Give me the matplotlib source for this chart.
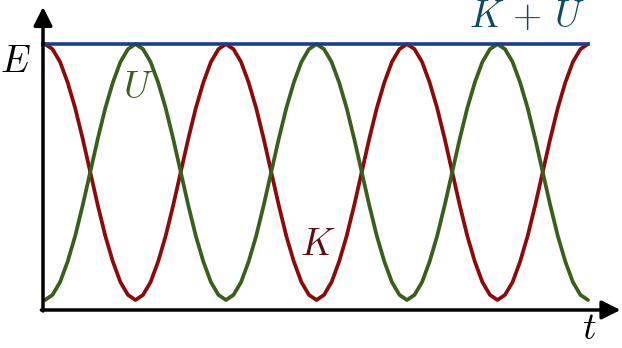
import numpy as np
import matplotlib.pyplot as plt

plt.rcParams['mathtext.fontset'] = 'cm'

# time samples: 3 periods of K, 24 samples per period
T_SAMPLES = np.linspace(0, 3, 73)

# kinetic energy K
K_VALUES = [
    1.00, 0.98, 0.93, 0.85, 0.75, 0.63, 0.50, 0.37, 0.25, 0.15, 0.07, 0.02,
    0.00, 0.02, 0.07, 0.15, 0.25, 0.37, 0.50, 0.63, 0.75, 0.85, 0.93, 0.98,
    1.00, 0.98, 0.93, 0.85, 0.75, 0.63, 0.50, 0.37, 0.25, 0.15, 0.07, 0.02,
    0.00, 0.02, 0.07, 0.15, 0.25, 0.37, 0.50, 0.63, 0.75, 0.85, 0.93, 0.98,
    1.00, 0.98, 0.93, 0.85, 0.75, 0.63, 0.50, 0.37, 0.25, 0.15, 0.07, 0.02,
    0.00, 0.02, 0.07, 0.15, 0.25, 0.37, 0.50, 0.63, 0.75, 0.85, 0.93, 0.98,
    1.00,
]

# potential energy U
U_VALUES = [
    0.00, 0.02, 0.07, 0.15, 0.25, 0.37, 0.50, 0.63, 0.75, 0.85, 0.93, 0.98,
    1.00, 0.98, 0.93, 0.85, 0.75, 0.63, 0.50, 0.37, 0.25, 0.15, 0.07, 0.02,
    0.00, 0.02, 0.07, 0.15, 0.25, 0.37, 0.50, 0.63, 0.75, 0.85, 0.93, 0.98,
    1.00, 0.98, 0.93, 0.85, 0.75, 0.63, 0.50, 0.37, 0.25, 0.15, 0.07, 0.02,
    0.00, 0.02, 0.07, 0.15, 0.25, 0.37, 0.50, 0.63, 0.75, 0.85, 0.93, 0.98,
    1.00, 0.98, 0.93, 0.85, 0.75, 0.63, 0.50, 0.37, 0.25, 0.15, 0.07, 0.02,
    0.00,
]

# total energy K + U
TOTAL_T = [-0.011, 3.0]
TOTAL_VALUES = [1.0, 1.0]

RED = '#8b0a0c'
GREEN = '#3a5e1c'
BLUE = '#1b3d8a'

fig = plt.figure(figsize=(6.22, 3.48), dpi=100)
ax = fig.add_axes([0, 0, 1, 1])
ax.set_xlim(-0.2486, 3.188)
ax.set_ylim(-0.1875, 1.172)
ax.axis('off')

ax.plot(T_SAMPLES, K_VALUES, color=RED, lw=2.7, solid_capstyle='round',
        solid_joinstyle='round', zorder=3)
ax.plot(T_SAMPLES, U_VALUES, color=GREEN, lw=2.7, solid_capstyle='round',
        solid_joinstyle='round', zorder=3)
ax.plot(TOTAL_T, TOTAL_VALUES, color=BLUE, lw=2.6, zorder=4)

# axes arrows
arrow = dict(arrowstyle='-|>', mutation_scale=28, lw=2.5, color='black',
             shrinkA=0, shrinkB=0)
ax.annotate('', xy=(-0.011, 1.145), xytext=(-0.011, -0.043), arrowprops=arrow, zorder=5)
ax.annotate('', xy=(3.18, -0.039), xytext=(-0.02, -0.039), arrowprops=arrow, zorder=5)

# labels
ax.text(-0.166, 0.93, r'$E$', fontsize=27, ha='center', va='center')
ax.text(3.008, -0.112, r'$t$', fontsize=27, ha='center', va='center')
ax.text(0.514, 0.83, r'$U$', fontsize=27, ha='center', va='center', color=GREEN)
ax.text(1.508, 0.215, r'$K$', fontsize=27, ha='center', va='center', color='#5c0f16')
ax.text(2.664, 1.105, r'$K\,+\,U$', fontsize=27, ha='center', va='center', color='#0d4b5e')

fig.savefig('out.png', dpi=100)
